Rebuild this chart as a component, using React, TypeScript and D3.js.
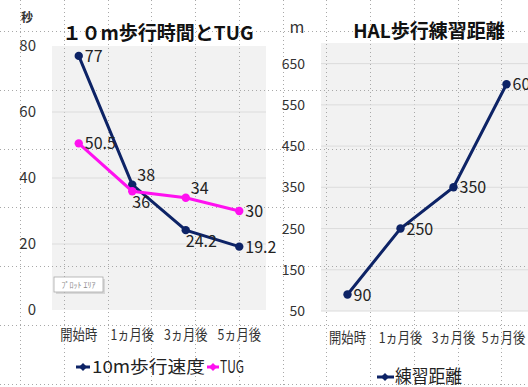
import React from "react";
import * as d3 from "d3";

const categories = ["開始時", "1ヵ月後", "3ヵ月後", "5ヵ月後"];
const walk10m = [77, 38, 24.2, 19.2];
const tug = [50.5, 36, 34, 30];
const hal = [90, 250, 350, 600];
const leftTicks = [0, 20, 40, 60, 80];
const rightTicks = [50, 150, 250, 350, 450, 550, 650];

// label placement: "r" right, "a" above-right, "b" below-right
const walkPos = ["r", "a", "b", "r"];
const tugPos = ["r", "b", "a", "r"];
const halPos = ["r", "r", "r", "r"];

const NAVY = "#0d2366";
const PINK = "#ff10f0";
const FONT = "'Noto Sans CJK JP', 'Noto Sans', sans-serif";

const W = 528;
const H = 387;

function Labels({ data, pos, x, y }: any) {
  return (
    <g>
      {data.map((v: number, i: number) => {
        const cx = (x(categories[i]) ?? 0) + x.bandwidth() / 2;
        const cy = y(v);
        const p = pos[i];
        let dx = 6, dy = 6;
        if (p === "a") { dx = 5; dy = -4; }
        if (p === "b") { dx = 0; dy = 17; }
        return (
          <text key={i} x={cx + dx} y={cy + dy} fontSize={16} fill="#222" fontFamily={FONT}>
            {String(v)}
          </text>
        );
      })}
    </g>
  );
}

function Series({ data, x, y, color }: any) {
  const line = d3
    .line<number>()
    .x((_, i) => (x(categories[i]) ?? 0) + x.bandwidth() / 2)
    .y((d) => y(d));
  return (
    <g>
      <path d={line(data) ?? ""} fill="none" stroke={color} strokeWidth={3} />
      {data.map((v: number, i: number) => (
        <circle key={i} cx={(x(categories[i]) ?? 0) + x.bandwidth() / 2} cy={y(v)} r={4.2} fill={color} />
      ))}
    </g>
  );
}

function XLabels({ x, y, shiftLast }: any) {
  return (
    <g fontFamily={FONT} fontSize={15} fill="#333" textAnchor="middle">
      {categories.map((c, i) => {
        const cx = (x(c) ?? 0) + x.bandwidth() / 2 - (i === 3 ? shiftLast : 0);
        return (
          <g key={c} transform={`translate(${cx},${y}) scale(0.82,1)`}>
            <text x={0} y={0}>{c}</text>
          </g>
        );
      })}
    </g>
  );
}

export default function App() {
  const xL = d3.scaleBand<string>().domain(categories).range([52, 266]);
  const yL = d3.scaleLinear().domain([0, 80]).range([310, 46]);
  const xR = d3.scaleBand<string>().domain(categories).range([321, 533]);
  const yR = d3.scaleLinear().domain([50, 700]).range([311, 43]);

  const vDots = d3.range(0, 12).map((k) => 20 + 43.75 * k);
  const hDots = d3.range(0, 7).map((k) => 31 + 58.8 * k);

  return (
    <svg width={W} height={H} style={{ position: "absolute", left: 0, top: 0, background: "#fff" }}>
      {/* plot areas */}
      <rect x={52} y={46} width={214} height={264} fill="#f2f2f2" />
      <rect x={321} y={43} width={212} height={268} fill="#f2f2f2" />

      {/* worksheet dotted grid */}
      <g stroke="#a8a8a8" strokeWidth={1} strokeDasharray="1 3">
        {vDots.map((v) => (
          <line key={"v" + v} x1={Math.round(v) + 0.5} x2={Math.round(v) + 0.5} y1={0} y2={H} />
        ))}
        {hDots.map((v) => (
          <line key={"h" + v} x1={0} x2={W} y1={Math.round(v) + 0.5} y2={Math.round(v) + 0.5} />
        ))}
      </g>

      {/* gridlines */}
      <g stroke="#dcdcdc" strokeWidth={1}>
        {leftTicks.filter((t) => t > 0 && t < 80).map((t) => (
          <line key={t} x1={52} x2={266} y1={yL(t)} y2={yL(t)} />
        ))}
        {rightTicks.map((t) => (
          <line key={t} x1={321} x2={533} y1={yR(t)} y2={yR(t)} />
        ))}
      </g>

      {/* axis labels */}
      <g fontFamily={FONT} fontSize={15} fill="#333" textAnchor="end">
        {leftTicks.map((t) => (
          <text key={t} x={36} y={yL(t) + 5}>{t}</text>
        ))}
      </g>
      <g fontFamily={FONT} fontSize={14} fill="#333" textAnchor="end">
        {rightTicks.map((t) => (
          <text key={t} x={305} y={yR(t) + 5}>{t}</text>
        ))}
      </g>
      <text x={27} y={22} fontFamily={FONT} fontSize={12} fontWeight="bold" fill="#333" textAnchor="middle">秒</text>
      <text x={297} y={33} fontFamily={FONT} fontSize={16} fill="#333" textAnchor="middle">m</text>

      {/* x labels */}
      <XLabels x={xL} y={340} shiftLast={0} />
      <XLabels x={xR} y={343} shiftLast={3} />

      {/* titles */}
      <text x={158} y={40} fontFamily={FONT} fontSize={19} fontWeight="bold" fill="#111" textAnchor="middle">１０m歩行時間とTUG</text>
      <text x={429} y={38} fontFamily={FONT} fontSize={19} fontWeight="bold" fill="#111" textAnchor="middle">HAL歩行練習距離</text>

      {/* series */}
      <Series data={walk10m} x={xL} y={yL} color={NAVY} />
      <Series data={tug} x={xL} y={yL} color={PINK} />
      <Series data={hal} x={xR} y={yR} color={NAVY} />
      <Labels data={walk10m} pos={walkPos} x={xL} y={yL} />
      <Labels data={tug} pos={tugPos} x={xL} y={yL} />
      <Labels data={hal} pos={halPos} x={xR} y={yR} />

      {/* plot area tooltip */}
      <g>
        <rect x={56} y={279} width={49} height={15} fill="#bbb" opacity={0.5} />
        <rect x={54} y={277} width={49} height={15} fill="#fff" stroke="#aaa" strokeWidth={0.8} />
        <text x={78.5} y={288} fontFamily={FONT} fontSize={8} fill="#888" textAnchor="middle">ﾌﾟﾛｯﾄ ｴﾘｱ</text>
      </g>

      {/* legends */}
      <g fontFamily={FONT} fontSize={17} fill="#222">
        <line x1={76} x2={90} y1={367} y2={367} stroke={NAVY} strokeWidth={3} />
        <path d="M83,363 L87,367 L83,371 L79,367 Z" fill={NAVY} />
        <text x={92} y={373} textLength={113} lengthAdjust="spacingAndGlyphs">10m歩行速度</text>
        <line x1={207} x2={219} y1={367} y2={367} stroke={PINK} strokeWidth={3} />
        <path d="M213,363 L217,367 L213,371 L209,367 Z" fill={PINK} />
        <text x={220} y={373} textLength={24} lengthAdjust="spacingAndGlyphs">TUG</text>
        <line x1={377} x2={394} y1={377} y2={377} stroke={NAVY} strokeWidth={3} />
        <path d="M385,373 L389,377 L385,381 L381,377 Z" fill={NAVY} />
        <text x={395} y={383} fontSize={18} textLength={67} lengthAdjust="spacingAndGlyphs">練習距離</text>
      </g>
    </svg>
  );
}
